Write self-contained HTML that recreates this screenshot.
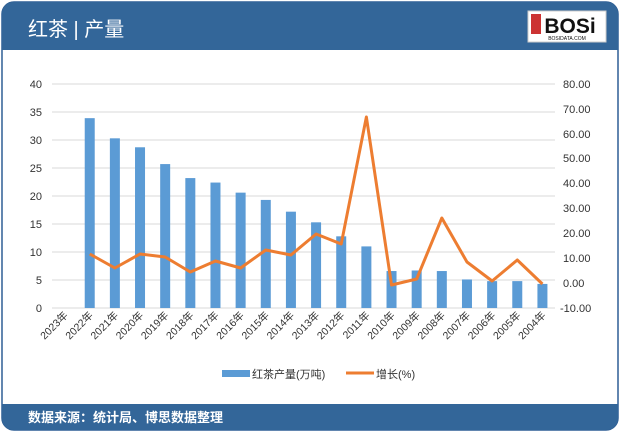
<!DOCTYPE html>
<html><head><meta charset="utf-8"><style>
body{margin:0;background:#fff;width:620px;height:433px;overflow:hidden;font-family:"Liberation Sans","Noto Sans CJK SC",sans-serif}
</style></head><body>
<svg width="620" height="433" viewBox="0 0 620 433" xmlns="http://www.w3.org/2000/svg" font-family="Liberation Sans, Noto Sans CJK SC, sans-serif">
<rect x="2" y="2" width="616" height="428" rx="12" fill="#fff" stroke="#2f5f95" stroke-width="1.5"/>
<path d="M2 50 V14 a12 12 0 0 1 12 -12 H606 a12 12 0 0 1 12 12 V50 Z" fill="#336699"/>
<text x="28" y="36" font-size="20" fill="#fff">红茶 | 产量</text>
<rect x="528" y="11" width="78" height="31" fill="#fff" stroke="#ccc"/>
<rect x="531" y="14" width="10" height="20" fill="#c33"/>
<text x="570" y="33" font-size="21" font-weight="bold" text-anchor="middle" fill="#111">BOSi</text>
<text x="567" y="40" font-size="5" text-anchor="middle" fill="#111">BOSIDATA.COM</text>
<path d="M2 404 H618 V418 a12 12 0 0 1 -12 12 H14 a12 12 0 0 1 -12 -12 Z" fill="#336699"/>
<text x="28" y="422" font-size="13" fill="#fff" font-weight="bold">数据来源：统计局、博思数据整理</text>
<g stroke="#d9d9d9" stroke-width="1">
<line x1="52" x2="555" y1="84" y2="84"/><line x1="52" x2="555" y1="112" y2="112"/><line x1="52" x2="555" y1="140" y2="140"/><line x1="52" x2="555" y1="168" y2="168"/><line x1="52" x2="555" y1="196" y2="196"/><line x1="52" x2="555" y1="224" y2="224"/><line x1="52" x2="555" y1="252" y2="252"/><line x1="52" x2="555" y1="280" y2="280"/><line x1="52" x2="555" y1="308" y2="308"/>
</g>
<g font-size="11" fill="#333" text-anchor="end">
<text x="42" y="88">40</text><text x="42" y="116">35</text><text x="42" y="144">30</text><text x="42" y="172">25</text><text x="42" y="200">20</text><text x="42" y="228">15</text><text x="42" y="256">10</text><text x="42" y="284">5</text><text x="42" y="312">0</text>
</g>
<g font-size="11" fill="#333">
<text x="563" y="88">80.00</text><text x="563" y="113">70.00</text><text x="563" y="138">60.00</text><text x="563" y="162">50.00</text><text x="563" y="187">40.00</text><text x="563" y="212">30.00</text><text x="563" y="237">20.00</text><text x="563" y="262">10.00</text><text x="563" y="287">0.00</text><text x="560" y="312">-10.00</text>
</g>
<g fill="#5b9bd5" id="bars"></g>
<polyline id="ln" fill="none" stroke="#ed7d31" stroke-width="3" stroke-linejoin="round"/>
<g id="xl" font-size="10.5" fill="#333"></g>
<rect x="222" y="370" width="28" height="7" fill="#5b9bd5"/>
<text x="252" y="378" font-size="11" fill="#333">红茶产量(万吨)</text>
<line x1="346" x2="374" y1="373" y2="373" stroke="#ed7d31" stroke-width="3"/>
<text x="376" y="378" font-size="11" fill="#333">增长(%)</text>
</svg>
<script>
var v=[0,33.9,30.3,28.7,25.7,23.2,22.4,20.6,19.3,17.2,15.3,12.8,11.0,6.6,6.7,6.6,5.1,4.8,4.8,4.3];
var ly=[null,254,268,254,257,272,261,268,250,255,234,244,117,285,279,218,262,281,260,284];
var ns="http://www.w3.org/2000/svg",w=25.15,b=document.getElementById('bars'),xl=document.getElementById('xl'),pts=[];
for(var i=0;i<20;i++){var c=52+w*(i+0.5);
if(v[i]>0){var r=document.createElementNS(ns,'rect');r.setAttribute('x',c-5);r.setAttribute('width',10);r.setAttribute('y',308-v[i]*5.6);r.setAttribute('height',v[i]*5.6);b.appendChild(r);}
if(ly[i]!=null)pts.push(c+','+ly[i]);
var t=document.createElementNS(ns,'text');t.setAttribute('transform','translate('+(c+4)+',316) rotate(-45)');t.setAttribute('text-anchor','end');t.textContent=(2023-i)+'年';xl.appendChild(t);}
document.getElementById('ln').setAttribute('points',pts.join(' '));
</script>
</body></html>
